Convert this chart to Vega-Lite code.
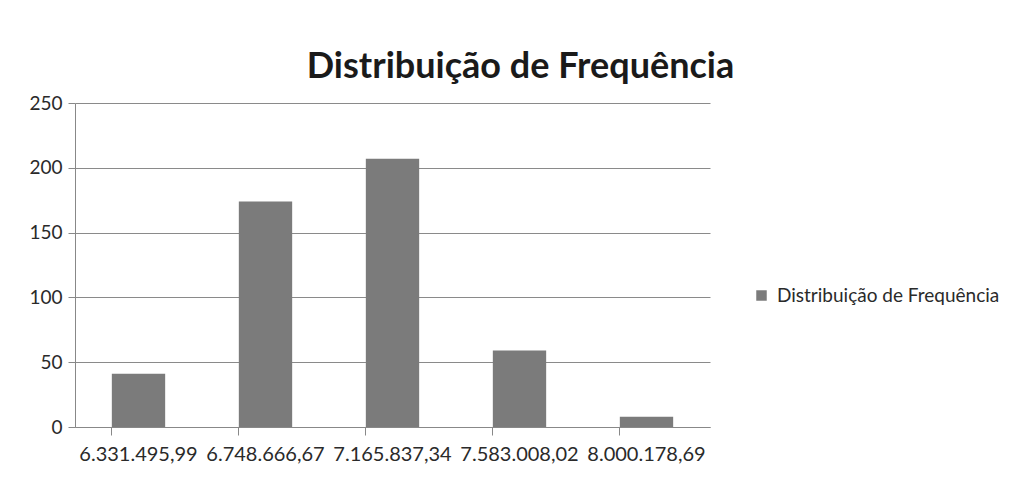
{
  "$schema": "https://vega.github.io/schema/vega-lite/v6.json",
  "width": 635,
  "height": 324,
  "autosize": {"type": "none"},
  "padding": {"left": 75, "top": 103, "right": 306, "bottom": 63},
  "background": "white",
  "title": {
    "text": "Distribuição de Frequência",
    "font": "Lato",
    "fontSize": 36,
    "fontWeight": "bold",
    "color": "#1a1a1a",
    "anchor": "middle",
    "frame": "group",
    "dx": 128,
    "offset": 8
  },
  "data": {
    "values": [
      {"classe": "6.331.495,99", "freq": 41},
      {"classe": "6.748.666,67", "freq": 174},
      {"classe": "7.165.837,34", "freq": 207},
      {"classe": "7.583.008,02", "freq": 59},
      {"classe": "8.000.178,69", "freq": 8}
    ]
  },
  "mark": {"type": "bar", "color": "#7b7b7b"},
  "encoding": {
    "x": {
      "field": "classe",
      "type": "nominal",
      "sort": null,
      "scale": {"paddingInner": 0.58, "paddingOuter": 0.29},
      "axis": {
        "title": null,
        "labelAngle": 0,
        "bandPosition": 0,
        "tickSize": 8,
        "tickColor": "#888888",
        "domainColor": "#888888",
        "labelFont": "Lato",
        "labelFontSize": 20,
        "labelColor": "#2a2a2a",
        "labelPadding": 9,
        "labelBound": false,
        "labelOverlap": false,
        "labelLimit": 0
      }
    },
    "y": {
      "field": "freq",
      "type": "quantitative",
      "scale": {"domain": [0, 250], "nice": false},
      "axis": {
        "title": null,
        "values": [0, 50, 100, 150, 200, 250],
        "tickSize": 7,
        "tickColor": "#888888",
        "domainColor": "#888888",
        "gridColor": "#8a8a8a",
        "gridWidth": 1,
        "labelFont": "Lato",
        "labelFontSize": 19,
        "labelColor": "#2a2a2a",
        "labelPadding": 6
      }
    },
    "color": {
      "datum": "Distribuição de Frequência",
      "scale": {"range": ["#7b7b7b"]},
      "legend": {
        "title": null,
        "orient": "none",
        "legendX": 677,
        "legendY": 183,
        "symbolType": "square",
        "symbolSize": 110,
        "symbolStrokeWidth": 0,
        "labelFont": "Lato",
        "labelFontSize": 19,
        "labelColor": "#2a2a2a",
        "labelOffset": 6,
        "labelLimit": 0
      }
    }
  },
  "config": {"view": {"stroke": null}}
}
